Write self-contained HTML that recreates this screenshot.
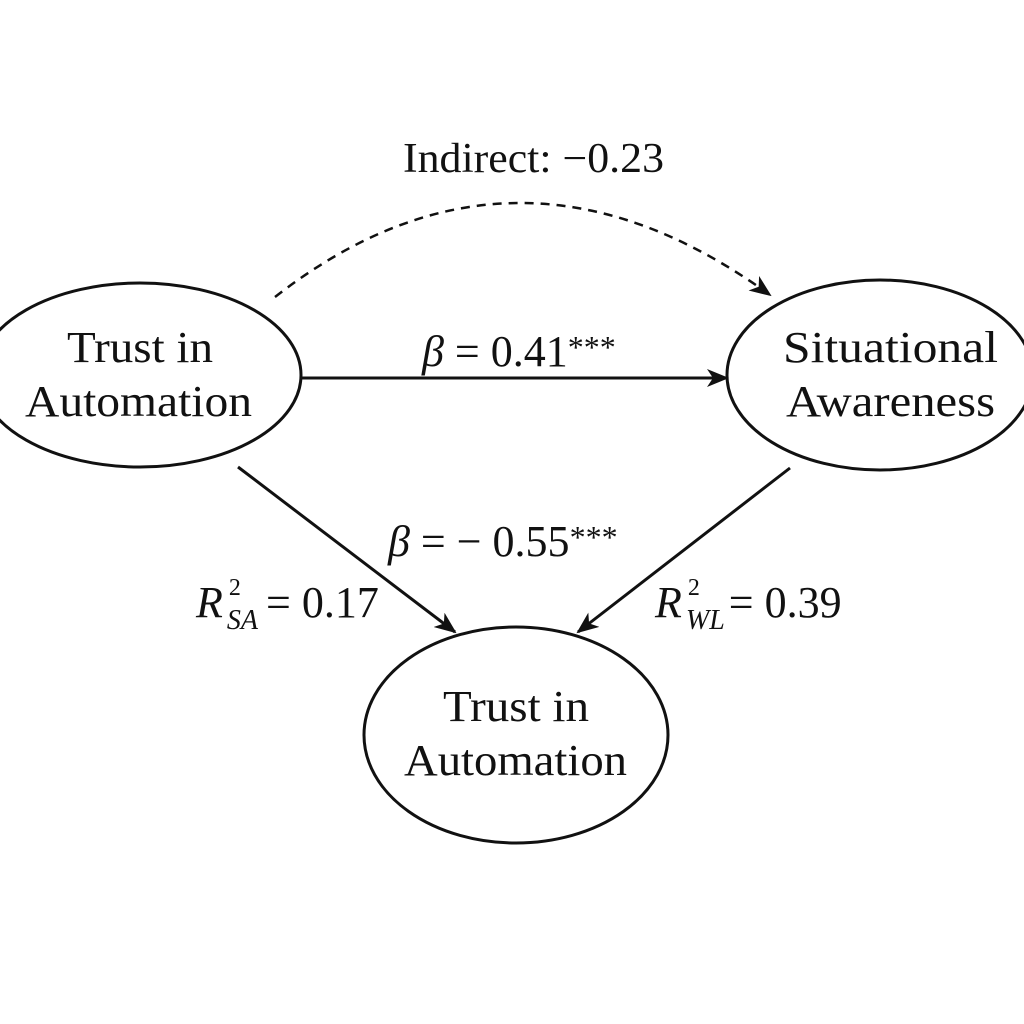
<!DOCTYPE html>
<html><head><meta charset="utf-8"><style>
html,body{margin:0;padding:0;background:#fff;width:1024px;height:1024px;overflow:hidden}
svg{display:block}
text{font-family:"Liberation Serif",serif;fill:#111}
</style></head><body>
<svg width="1024" height="1024" viewBox="0 0 1024 1024">
<defs>
<marker id="ah2" markerWidth="22" markerHeight="18" refX="20" refY="9" orient="auto" markerUnits="userSpaceOnUse" viewBox="0 0 22 18">
<path d="M0,0 L22,9 L0,18 L6,9 z" fill="#111"/>
</marker>
</defs>
<g fill="none" stroke="#111" stroke-width="3">
<ellipse cx="140" cy="375" rx="161" ry="92"/>
<ellipse cx="880" cy="375" rx="153" ry="95"/>
<ellipse cx="516" cy="735" rx="152" ry="108"/>
<line x1="302" y1="378" x2="727" y2="378" marker-end="url(#ah2)"/>
<line x1="238" y1="467" x2="455" y2="632" marker-end="url(#ah2)"/>
<line x1="790" y1="468" x2="578" y2="632" marker-end="url(#ah2)"/>
<path d="M275,297 Q515,110 770,295" stroke-dasharray="9,7" stroke-width="2.5" marker-end="url(#ah2)"/>
</g>
<g font-size="44">
<text x="67" y="362" textLength="146" lengthAdjust="spacingAndGlyphs">Trust in</text>
<text x="25" y="416" textLength="227" lengthAdjust="spacingAndGlyphs">Automation</text>
<text x="783" y="362" textLength="215" lengthAdjust="spacingAndGlyphs">Situational</text>
<text x="786" y="416" textLength="209" lengthAdjust="spacingAndGlyphs">Awareness</text>
<text x="443" y="721" textLength="146" lengthAdjust="spacingAndGlyphs">Trust in</text>
<text x="404" y="775" textLength="223" lengthAdjust="spacingAndGlyphs">Automation</text>
</g>
<text x="403" y="172" font-size="42" textLength="261" lengthAdjust="spacingAndGlyphs">Indirect: −0.23</text>
<text x="422" y="366" font-size="44"><tspan font-style="italic">β</tspan> = 0.41<tspan font-size="32" dy="-8">***</tspan></text>
<text x="388" y="556" font-size="44"><tspan font-style="italic">β</tspan> = − 0.55<tspan font-size="32" dy="-8">***</tspan></text>
<text x="196" y="617" font-size="44"><tspan font-style="italic">R</tspan><tspan font-size="24" dx="6" dy="-22">2</tspan><tspan font-size="28" font-style="italic" dx="-14" dy="34">SA</tspan><tspan dx="8" dy="-12">= 0.17</tspan></text>
<text x="655" y="617" font-size="44"><tspan font-style="italic">R</tspan><tspan font-size="24" dx="6" dy="-22">2</tspan><tspan font-size="28" font-style="italic" dx="-14" dy="34">WL</tspan><tspan dx="4" dy="-12">= 0.39</tspan></text>
</svg>
</body></html>
